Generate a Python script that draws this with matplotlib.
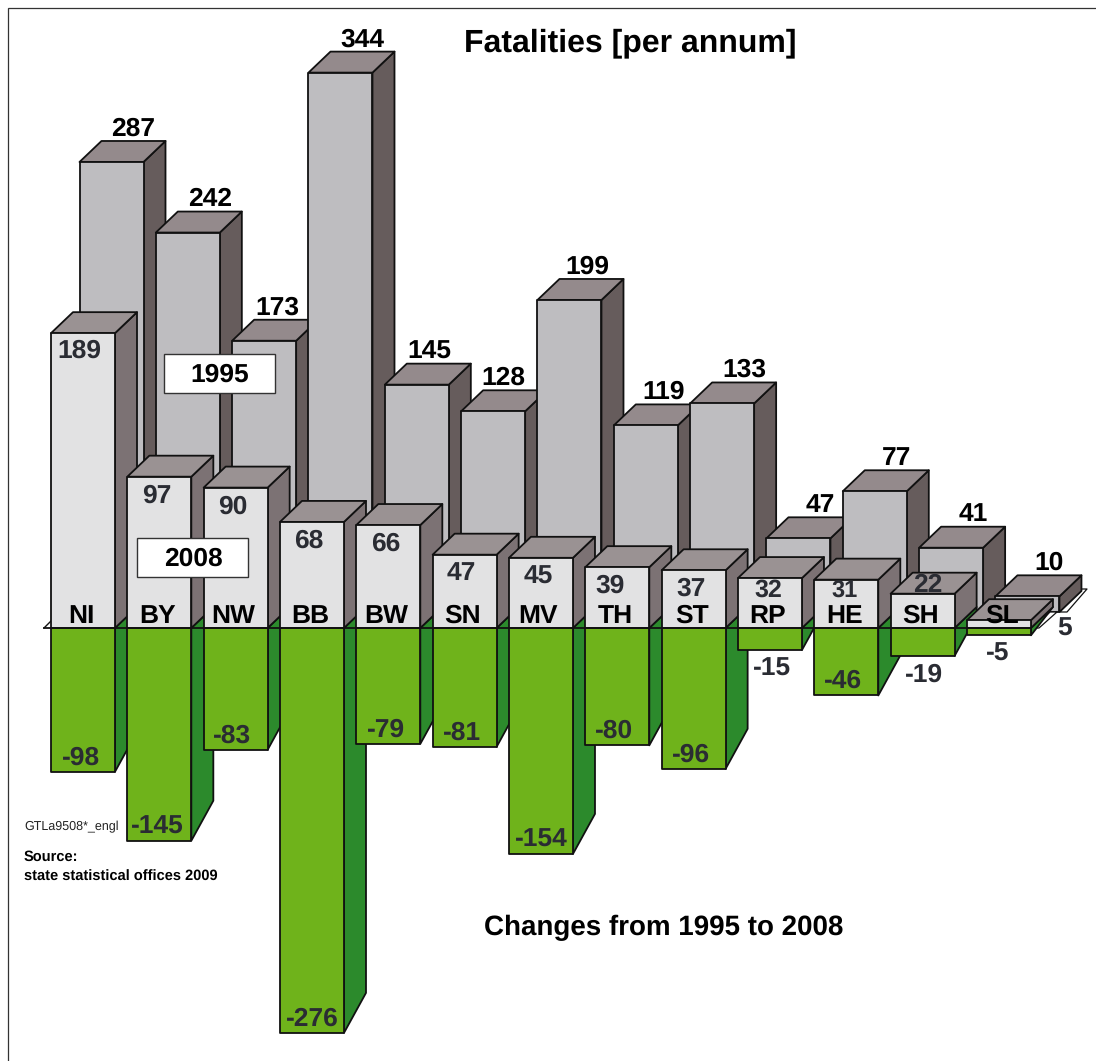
import matplotlib
matplotlib.use('Agg')
import matplotlib.pyplot as plt
from matplotlib.patches import Polygon, Rectangle

plt.rcParams['font.family'] = ['Liberation Sans', 'DejaVu Sans']
plt.rcParams['text.hinting'] = 'no_hinting'

states = ['NI', 'BY', 'NW', 'BB', 'BW', 'SN', 'MV', 'TH', 'ST', 'RP', 'HE', 'SH', 'SL']
fatal_1995 = [287, 242, 173, 344, 145, 128, 199, 119, 133, 47, 77, 41, 10]
fatal_2008 = [189, 97, 90, 68, 66, 47, 45, 39, 37, 32, 31, 22, 5]
change = [-98, -145, -83, -276, -79, -81, -154, -80, -96, -15, -46, -19, -5]

# geometry of the fake 3d, pixels of the 1096x1061 picture
W, H = 1096, 1061
STEP = 76.33      # px per state
UNIT = 1.56       # px per fatality
UNIT_BACK = 1.568
UNIT_NEG = 1.467  # the lower part was drawn on a slightly smaller scale
X0 = 83           # centre of first front bar
Y0 = 628          # zero line
BAR = 64 / STEP
DX = 22 / STEP
DY = 21 / UNIT
DY_NEG = 40 / UNIT
BACK_X = 28.5 / STEP
BACK_Y = 16 / UNIT

fig = plt.figure(figsize=(W / 100, H / 100), dpi=100)
ax = fig.add_axes([0, 0, 1, 1])
ax.set_xlim(-X0 / STEP, (W - X0) / STEP)
ax.set_ylim((Y0 - H) / UNIT, Y0 / UNIT)
ax.axis('off')


def px(x, y):
    return (x - X0) / STEP, (Y0 - y) / UNIT


def poly(points, color, z, lw=1.3):
    ax.add_patch(Polygon(points, closed=True, facecolor=color, edgecolor='#111111',
                         linewidth=lw, joinstyle='round', zorder=z))


def box3d(x, base, top, face, lid, side, z):
    l, r = x - BAR / 2, x + BAR / 2
    poly([(r, base), (r + DX, base + DY), (r + DX, top + DY), (r, top)], side, z)
    poly([(l, top), (r, top), (r + DX, top + DY), (l + DX, top + DY)], lid, z)
    poly([(l, base), (r, base), (r, top), (l, top)], face, z)


def label(x, y, s, size=19, color='#000000', z=50, **kw):
    # +2: va=center sits a bit high for these fonts
    xx, yy = px(x, y + 2)
    ax.text(xx, yy, s, fontsize=size, fontweight=kw.pop('weight', 'bold'), color=color,
            ha=kw.pop('ha', 'center'), va='center', zorder=z, **kw)


# frame, runs off the picture on the right and at the bottom
ax.add_patch(Rectangle(px(8, H + 20), (W + 20) / STEP, (H + 12) / UNIT, facecolor='none',
                       edgecolor='#333333', linewidth=0.9, zorder=0))

# back row, 1995
for i, v in enumerate(fatal_1995):
    box3d(i + BACK_X, BACK_Y, BACK_Y + v * UNIT_BACK / UNIT, '#bebdc0', '#948a8c', '#665c5c', 10 + i * 0.01)

# floor slivers under the small SL bars
poly([px(1033, 628), px(1039, 628), px(1057, 612), px(1050, 612)], '#ffffff', 11, lw=0.9)
poly([px(1060, 612), px(1067, 612), px(1087, 589), px(1078, 589)], '#ffffff', 9.9, lw=0.9)

# lower row, change
for i, v in enumerate(change):
    low = v * UNIT_NEG / UNIT
    l, r = i - BAR / 2, i + BAR / 2
    poly([(r, 0), (r + DX, DY), (r + DX, min(low + DY_NEG, DY)), (r, low)], '#2c8a2c', 20 + i * 0.01)
    poly([(l, 0), (r, 0), (r, low), (l, low)], '#6fb31b', 20 + i * 0.01)

# front row, 2008
for i, v in enumerate(fatal_2008):
    box3d(i, 0, v, '#e2e2e3', '#9a9293', '#7c7274', 30 + i * 0.01)

# zero line with the little corner on the left
n = len(states) - 1
x_start, _ = px(44, Y0)
ax.plot([x_start, n + BAR / 2], [0, 0], color='#111111', lw=1.3, zorder=35)
ax.plot([x_start, x_start + 7 / STEP], [0, 7 / UNIT], color='#111111', lw=1.0, zorder=8)

# value labels; small nudges where the original placed them by hand
back_nudge = {'NW': -9, 'BW': -9, 'SN': -12, 'MV': -4, 'TH': -4}
for i, (s, v) in enumerate(zip(states, fatal_1995)):
    x = X0 + i * STEP + 28.5 + 22 + back_nudge.get(s, 0)
    y = 612 - v * UNIT_BACK - 21 - 14
    label(x, y, str(v))

front_pos = {'TH': (610, None), 'ST': (691, None), 'RP': (768, 588), 'HE': (845, 590),
             'SH': (928, 583), 'SL': (1065, 627), 'NI': (79, 349)}
front_size = {'RP': 18, 'HE': 17}
state_nudge = {'SL': 5, 'MV': -1}
for i, (s, v) in enumerate(zip(states, fatal_2008)):
    x = X0 + i * STEP - 3
    y = Y0 - v * UNIT + 17
    fx, fy = front_pos.get(s, (None, None))
    label(fx or x, fy or y, str(v), size=front_size.get(s, 19), color='#2a2c33')
    label(X0 + i * STEP - 2 + state_nudge.get(s, 0), 614, s, color='#000000', z=49)

change_nudge = {'BY': 1, 'BB': 3, 'MV': 3, 'RP': 5, 'SH': 4, 'SL': 2, 'NI': 1, 'BW': 1, 'NW': -1}
for i, (s, v) in enumerate(zip(states, change)):
    bottom = Y0 - v * UNIT_NEG
    y = bottom + 17 if s in ('RP', 'SH', 'SL') else bottom - 16
    x = X0 + i * STEP - 3 + change_nudge.get(s, 0)
    label(x, y, str(v), color='#2a2c33')

# year boxes
for year, x, y in [('1995', 164, 393), ('2008', 137, 577)]:
    ax.add_patch(Rectangle(px(x, y), 111 / STEP, 39 / UNIT, facecolor='#ffffff',
                           edgecolor='#333333', linewidth=1.0, zorder=45))
    label(x + 56, y - 20, year)

label(630, 41, 'Fatalities [per annum]', size=23)
label(664, 926, 'Changes from 1995 to 2008', size=20)
label(24, 825, 'GTLa9508*_engl', size=9, weight='normal', ha='left', color='#222222')
label(24, 855, 'Source:', size=10.5, ha='left')
label(24, 875, 'state statistical offices 2009', size=10.5, ha='left')

fig.savefig('out.png', dpi=100, facecolor='white')
